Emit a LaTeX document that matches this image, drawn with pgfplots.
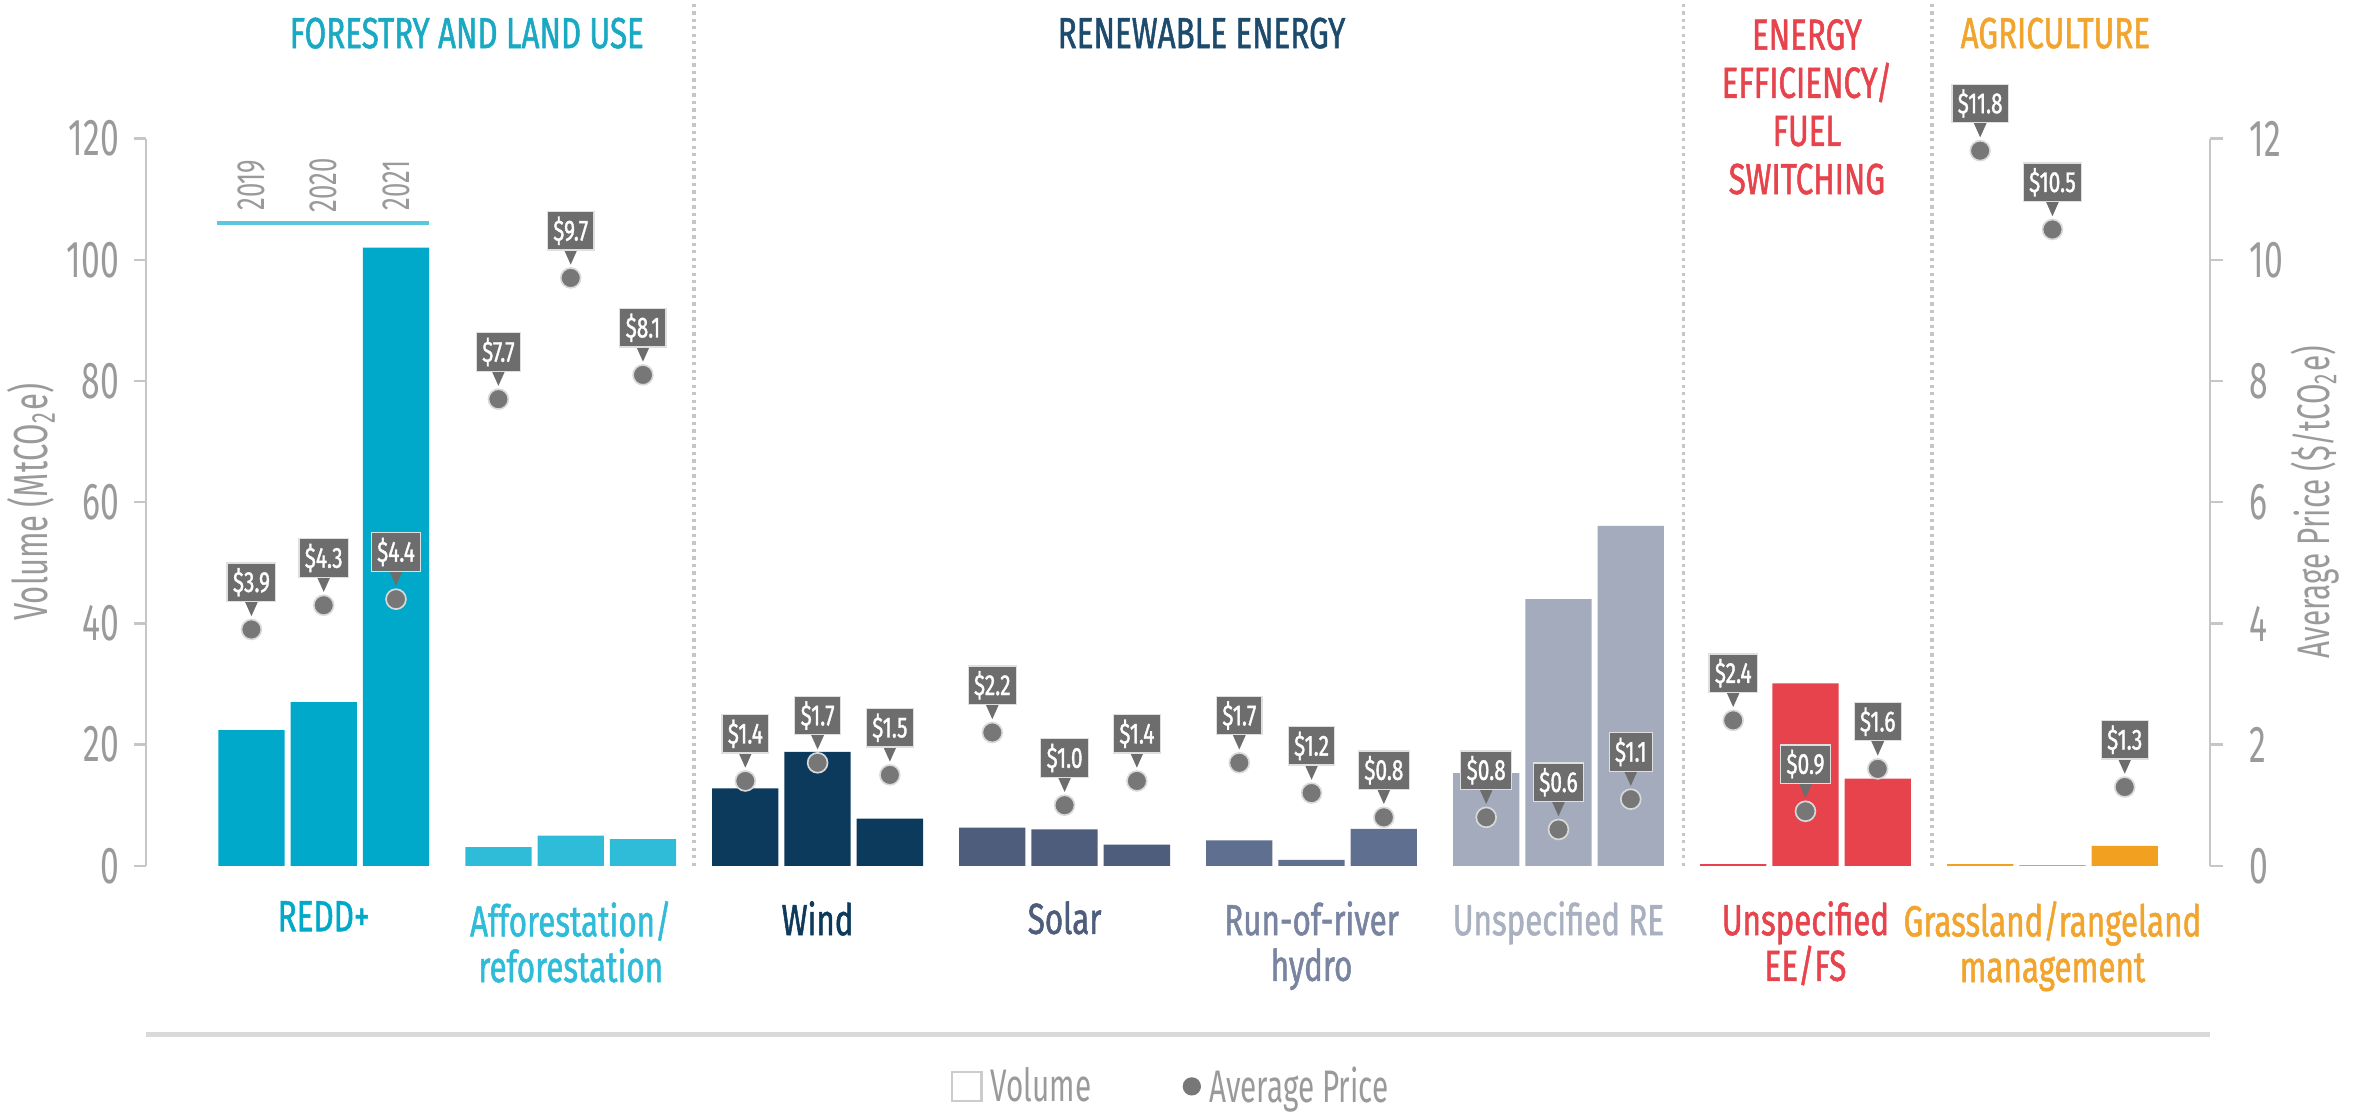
\documentclass[border=0pt]{standalone}
\usepackage{fontspec}
\setmainfont{Fira Sans}[FakeStretch=0.65]
\newfontfamily\medfont{Fira Sans}[FakeStretch=0.72, FakeBold=1.2]
\usepackage{pgfplots}
\pgfplotsset{compat=1.18}

\definecolor{cRedd}{HTML}{00A9C9}
\definecolor{cAff}{HTML}{2FBCD9}
\definecolor{cWind}{HTML}{0C3A5C}
\definecolor{cSolar}{HTML}{4D5D7B}
\definecolor{cHydro}{HTML}{5F6F8F}
\definecolor{cRE}{HTML}{A4ABBC}
\definecolor{cEE}{HTML}{E7434C}
\definecolor{cAg}{HTML}{F2A01F}
\definecolor{cDot}{HTML}{777777}
\definecolor{cBox}{HTML}{6D6D6D}
\definecolor{cAxis}{HTML}{9A9A9A}
\definecolor{cForTitle}{HTML}{1AA9C2}
\definecolor{cRETitle}{HTML}{1D4B6E}
\definecolor{cHydroTxt}{HTML}{7884A0}
\definecolor{cRETxt}{HTML}{A9B0C0}
\definecolor{cAgTxt}{HTML}{F1A42E}

\begin{document}
\begin{tikzpicture}
% annotations in reference pixel units (1568 x 743)
\begin{scope}[x=0.012755cm, y=0.012755cm]
\node[anchor=base, text=cForTitle, font=\medfont\fontsize{10.5}{11.6}\selectfont] at (310,711) {FORESTRY AND LAND USE};
\node[anchor=base, text=cRETitle, font=\medfont\fontsize{10.5}{11.6}\selectfont] at (798,711) {RENEWABLE ENERGY};
\node[anchor=north, align=center, text=cEE, font=\medfont\fontsize{10.5}{11.6}\selectfont] at (1200,740) {ENERGY\\EFFICIENCY/\\FUEL\\SWITCHING};
\node[anchor=base, text=cAgTxt, font=\medfont\fontsize{10.5}{11.6}\selectfont] at (1365,711) {AGRICULTURE};
\draw[gray!30, line width=1.1pt] (97,56) -- (1468,56);
\end{scope}

% volume (bars)
\begin{axis}[
  at={(1.2372cm,2.1428cm)}, anchor=south west,
  scale only axis, width=17.487cm, height=6.161cm,
  xmin=-1.458, xmax=27.1, ymin=0, ymax=120,
  clip=false,
  axis y line*=left, axis x line*=bottom,
  x axis line style={draw=none}, xtick style={draw=none},
  y axis line style={draw=gray!45, line width=0.6pt},
  ytick={0,20,...,120}, ytick style={draw=gray!45, line width=0.6pt},
  tick align=outside, major tick length=3pt,
  yticklabel={\pgfmathprintnumber{\tick}},
  /pgf/number format/assume math mode=true,
  yticklabel style={text=cAxis, font=\fontsize{12.5}{13}\selectfont},
  ylabel={Volume (MtCO\textsubscript{2}e)},
  ylabel style={text=cAxis, font=\fontsize{11.5}{12}\selectfont, yshift=-4pt},
  xtick={1,4.417,7.833,11.25,14.667,18.083,21.5,24.917},
  xticklabels={
    {\color{cRedd}REDD+},
    {\color{cAff}Afforestation/\\\color{cAff}reforestation},
    {\color{cWind}Wind},
    {\color{cSolar}Solar},
    {\color{cHydroTxt}Run-of-river\\\color{cHydroTxt}hydro},
    {\color{cRETxt}Unspecified RE},
    {\color{cEE}Unspecified\\\color{cEE}EE/FS},
    {\color{cAgTxt}Grassland/rangeland\\\color{cAgTxt}management}},
  xticklabel style={align=center, anchor=north, yshift=-2pt, font=\medfont\fontsize{10.5}{11}\selectfont},
  ybar, bar width=0.917, bar shift=0pt,
]
\addplot[fill=cRedd, draw=none] coordinates {(0,22.4) (1,27.0) (2,102.0)};
\addplot[fill=cAff, draw=none] coordinates {(3.417,3.1) (4.417,5.0) (5.417,4.4)};
\addplot[fill=cWind, draw=none] coordinates {(6.833,12.8) (7.833,18.8) (8.833,7.8)};
\addplot[fill=cSolar, draw=none] coordinates {(10.25,6.3) (11.25,6.0) (12.25,3.5)};
\addplot[fill=cHydro, draw=none] coordinates {(13.667,4.2) (14.667,1.0) (15.667,6.1)};
\addplot[fill=cRE, draw=none] coordinates {(17.083,15.3) (18.083,44.0) (19.083,56.1)};
\addplot[fill=cEE, draw=none] coordinates {(20.5,0.3) (21.5,30.1) (22.5,14.4)};
\addplot[fill=cAg, draw=none] coordinates {(23.917,0.3) (24.917,0.1) (25.917,3.3)};

% sector separators
\draw[gray!45, densely dotted, line width=0.8pt] (axis cs:6.125,0) -- (axis cs:6.125,142.9);
\draw[gray!45, densely dotted, line width=0.8pt] (axis cs:19.81,0) -- (axis cs:19.81,142.9);
\draw[gray!45, densely dotted, line width=0.8pt] (axis cs:23.25,0) -- (axis cs:23.25,142.9);

% years above REDD+
\draw[cRedd!65, line width=0.9pt] (axis cs:-0.48,106.1) -- (axis cs:2.46,106.1);
\node[rotate=90, text=cAxis, font=\fontsize{9.5}{9.5}\selectfont] at (axis cs:0,112.3) {2019};
\node[rotate=90, text=cAxis, font=\fontsize{9.5}{9.5}\selectfont] at (axis cs:1,112.3) {2020};
\node[rotate=90, text=cAxis, font=\fontsize{9.5}{9.5}\selectfont] at (axis cs:2,112.3) {2021};
\end{axis}

% average price (dots)
\begin{axis}[
  at={(1.2372cm,2.1428cm)}, anchor=south west,
  scale only axis, width=17.487cm, height=6.161cm,
  xmin=-1.458, xmax=27.1, ymin=0, ymax=12,
  clip=false,
  axis y line*=right, axis x line=none,
  y axis line style={draw=gray!45, line width=0.6pt},
  ytick={0,2,...,12}, ytick style={draw=gray!45, line width=0.6pt},
  tick align=outside, major tick length=3pt,
  yticklabel={\pgfmathprintnumber{\tick}},
  /pgf/number format/assume math mode=true,
  yticklabel style={text=cAxis, font=\fontsize{12.5}{13}\selectfont, xshift=3pt},
  ylabel={Average Price (\$/tCO\textsubscript{2}e)},
  ylabel style={text=cAxis, font=\fontsize{11}{12}\selectfont, yshift=5pt},
  legend style={at={(0.498,-0.305)}, anchor=center, draw=none, fill=none,
    font=\fontsize{11}{12}\selectfont, text=cAxis,
    /tikz/every even column/.append style={column sep=20pt}},
  legend columns=2,
]
\addlegendimage{legend image code/.code={\draw[gray!40, line width=0.5pt, fill=white] (0pt,-3.3pt) rectangle (7pt,3.7pt);}}
\addlegendentry{Volume}
\addlegendimage{legend image code/.code={\fill[cDot] (4pt,0.3pt) circle (2pt);}}
\addlegendentry{Average Price}
\addplot[only marks, mark=*, mark size=2.4pt,
  mark options={fill=cDot, draw=white!70!gray, line width=0.4pt},
  point meta=y,
  nodes near coords={\$\pgfmathprintnumber[fixed,fixed zerofill,precision=1]{\pgfplotspointmeta}},
  every node near coord/.append style={rectangle, fill=cBox, draw=white!75!gray,
    line width=0.3pt, text=white, font=\medfont\fontsize{7}{7}\selectfont,
    inner xsep=1.4pt, inner ysep=1.2pt, minimum height=6.9pt, anchor=south, yshift=6.6pt,
    append after command={\pgfextra{\fill[cBox] ([xshift=-1.3pt]\tikzlastnode.south)
      -- ([xshift=1.3pt]\tikzlastnode.south) -- ([yshift=-2.9pt]\tikzlastnode.south) -- cycle;}}},
] coordinates {
  (0,3.9) (1,4.3) (2,4.4)
  (3.417,7.7) (4.417,9.7) (5.417,8.1)
  (6.833,1.4) (7.833,1.7) (8.833,1.5)
  (10.25,2.2) (11.25,1.0) (12.25,1.4)
  (13.667,1.7) (14.667,1.2) (15.667,0.8)
  (17.083,0.8) (18.083,0.6) (19.083,1.1)
  (20.5,2.4) (21.5,0.9) (22.5,1.6)
  (23.917,11.8) (24.917,10.5) (25.917,1.3)
};
\end{axis}

\pgfresetboundingbox
\begin{scope}[x=0.012755cm, y=0.012755cm]
\path[use as bounding box] (0,0) rectangle (1568,743);
\end{scope}
\end{tikzpicture}
\end{document}
